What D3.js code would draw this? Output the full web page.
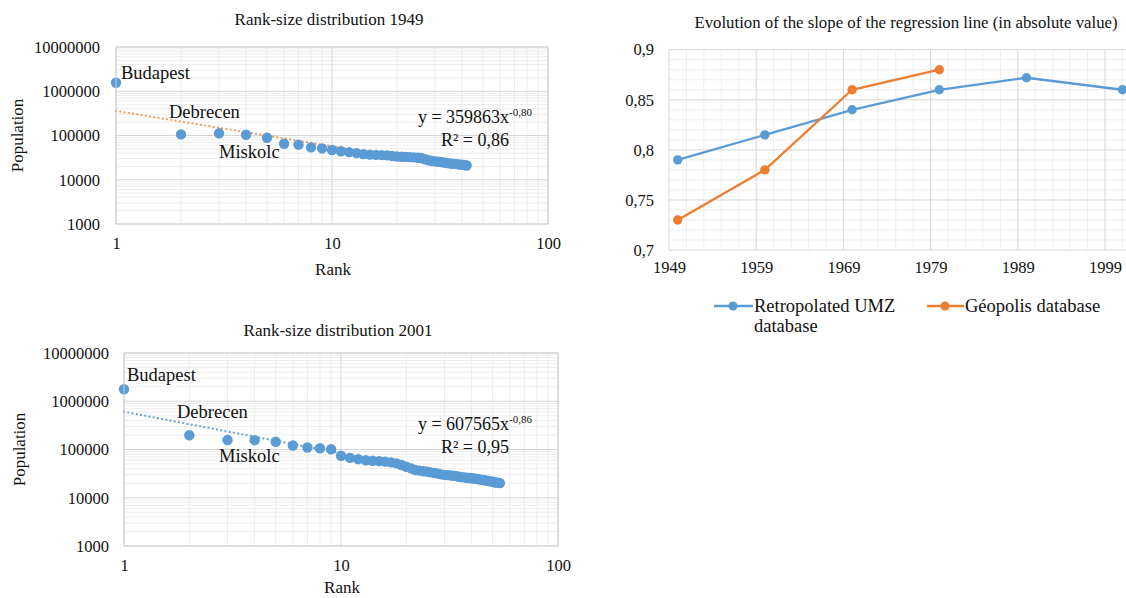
<!DOCTYPE html>
<html><head><meta charset="utf-8">
<script src="https://cdn.jsdelivr.net/npm/d3@7"></script>
<style>
body{margin:0;background:#fff}
svg{display:block}
text{font-family:"Liberation Serif","Times New Roman",serif;fill:#111}
</style></head>
<body><svg id="chart" width="1126" height="598"></svg>
<script>
// ---------- DATA ----------
const pop1949 = [1560000,106000,112000,104000,89000,65000,62000,54000,51000,47000,
  44000,42000,40000,38000,37000,36500,36000,35500,34500,33500,
  33000,32800,32500,32000,31500,30500,29000,27500,26500,26000,
  25500,25000,24500,24000,23500,23000,22800,22500,22000,21800,
  21500,21000];
const pop2001 = [1770000,197000,157000,156000,145000,121000,110000,106000,101000,74000,
  67000,63000,60000,58600,57500,56000,54000,51600,47600,44000,
  40500,37600,36500,35500,34700,33500,32500,31600,30500,29800,
  29400,29000,28600,28000,27300,26800,26400,26000,25700,25400,
  25000,24600,24200,23800,23400,23000,22600,22200,21800,21400,
  21000,20700,20400,20100];
const trend1949 = {a:359863, b:0.80, r2:"0,86"};
const trend2001 = {a:607565, b:0.86, r2:"0,95"};
const cityLabels = ["Budapest","Debrecen","Miskolc"];
const logTicksY = [1000,10000,100000,1000000,10000000];
const logTicksX = [1,10,100];

const slopeYearsUMZ = [1950,1960,1970,1980,1990,2001];
const slopeUMZ = [0.79,0.815,0.84,0.86,0.872,0.86];
const slopeYearsGeo = [1950,1960,1970,1980];
const slopeGeo = [0.73,0.78,0.86,0.88];
const yearTicks = [1949,1959,1969,1979,1989,1999];
const slopeTicks = [0.7,0.75,0.8,0.85,0.9];
const seriesNames = ["Retropolated UMZ", "database", "Géopolis database"];

const BLUE = "#5B9BD5", ORANGE = "#ED7D31";
const svg = d3.select("#chart");

// ---------- RANK-SIZE CHARTS ----------
function rankSize(cfg){
  const g = svg.append("g");
  const x = d3.scaleLog().domain([1,100]).range([cfg.l, cfg.r]);
  const y = d3.scaleLog().domain([1000,1e7]).range([cfg.b, cfg.t]);
  const minorX = [], minorY = [];
  [1,10].forEach(d=>{ for(let m=2;m<=9;m++) minorX.push(d*m); });
  [1e3,1e4,1e5,1e6].forEach(d=>{ for(let m=2;m<=9;m++) minorY.push(d*m); });
  g.selectAll(".mx").data(minorX).join("line")
    .attr("x1",d=>x(d)).attr("x2",d=>x(d)).attr("y1",cfg.t).attr("y2",cfg.b)
    .attr("stroke","#ededed").attr("stroke-width",1);
  g.selectAll(".my").data(minorY).join("line")
    .attr("y1",d=>y(d)).attr("y2",d=>y(d)).attr("x1",cfg.l).attr("x2",cfg.r)
    .attr("stroke","#ededed").attr("stroke-width",1);
  g.selectAll(".Mx").data(logTicksX).join("line")
    .attr("x1",d=>x(d)).attr("x2",d=>x(d)).attr("y1",cfg.t).attr("y2",cfg.b)
    .attr("stroke","#d6d6d6").attr("stroke-width",1);
  g.selectAll(".My").data(logTicksY).join("line")
    .attr("y1",d=>y(d)).attr("y2",d=>y(d)).attr("x1",cfg.l).attr("x2",cfg.r)
    .attr("stroke","#d6d6d6").attr("stroke-width",1);

  const ya = g.append("g").attr("transform",`translate(${cfg.l},0)`)
    .call(d3.axisLeft(y).tickValues(logTicksY).tickFormat(d3.format("d")).tickSize(0).tickPadding(cfg.padY));
  ya.select(".domain").remove();
  ya.selectAll("text").style("font-size","16.5px").style("font-family","Liberation Serif").attr("fill","#111");
  const xa = g.append("g").attr("transform",`translate(0,${cfg.b})`)
    .call(d3.axisBottom(x).tickValues(logTicksX).tickFormat(d3.format("d")).tickSize(0).tickPadding(13));
  xa.select(".domain").remove();
  xa.selectAll("text").style("font-size","16.5px").style("font-family","Liberation Serif").attr("fill","#111");

  const n = cfg.data.length;
  const tr = [1, n].map(r => [r, cfg.trend.a*Math.pow(r,-cfg.trend.b)]);
  g.append("path").attr("d", d3.line().x(d=>x(d[0])).y(d=>y(d[1]))(tr))
    .attr("fill","none").attr("stroke",cfg.trendColor).attr("stroke-width",2.2)
    .attr("stroke-dasharray","0.1 4.2").attr("stroke-linecap","round").attr("opacity",cfg.trendOpacity);

  g.selectAll(".pt").data(cfg.data).join("circle")
    .attr("cx",(d,i)=>x(i+1)).attr("cy",d=>y(d)).attr("r",5.2).attr("fill",BLUE);

  const txt = (s,xx,yy,size,anchor)=> g.append("text").attr("x",xx).attr("y",yy)
    .attr("text-anchor",anchor||"start").style("font-size",size+"px").text(s);
  txt(cfg.title, (cfg.l+cfg.r)/2 - 3, cfg.titleY, 17, "middle");
  txt("Rank", x(10)+1, cfg.rankY, 17, "middle");
  g.append("text").attr("transform",`translate(${cfg.popX},${(cfg.t+cfg.b)/2}) rotate(-90)`)
    .attr("text-anchor","middle").style("font-size","17px").text("Population");
  cfg.labelPos.forEach((p,i)=> txt(cityLabels[i], p[0], p[1], 18.5));
  const eq = g.append("text").attr("x",cfg.eqX).attr("y",cfg.eqY).attr("text-anchor","middle").style("font-size","18px");
  eq.append("tspan").text(`y = ${cfg.trend.a}x`);
  eq.append("tspan").attr("dy",-7).style("font-size","11px").text("-" + cfg.trend.b.toFixed(2).replace(".",","));
  txt(`R² = ${cfg.trend.r2}`, cfg.eqX, cfg.eqY+23, 18, "middle");
  g.append("rect").attr("x",cfg.l).attr("y",cfg.t).attr("width",cfg.r-cfg.l).attr("height",cfg.b-cfg.t)
    .attr("fill","none").attr("stroke","#d0d0d0");
}

rankSize({l:116,r:548,t:47,b:224,padY:16,data:pop1949,trend:trend1949,trendColor:ORANGE,trendOpacity:0.75,
  title:"Rank-size  distribution 1949",titleY:25,rankY:275,popX:23,
  labelPos:[[121,79],[169,118],[219,158]],eqX:475,eqY:123});
rankSize({l:124,r:558,t:353,b:546,padY:15,data:pop2001,trend:trend2001,trendColor:BLUE,trendOpacity:0.9,
  title:"Rank-size  distribution 2001",titleY:336,rankY:593,popX:25,
  labelPos:[[127,381],[177,418],[219,462]],eqX:475,eqY:430});

// ---------- SLOPE CHART ----------
(function(){
  const g = svg.append("g");
  const L=669, T=49.7, B=250, R=1126;
  const x = d3.scaleLinear().domain([1949,2002]).range([L, L+53*8.72]);
  const y = d3.scaleLinear().domain([0.7,0.9]).range([B,T]);
  const minorYears = d3.range(1951,2003,2).filter(v=>(v-1949)%10!==0);
  const minorVals = d3.range(71,90).map(v=>v/100).filter(v=>Math.round(v*100)%5!==0);
  g.selectAll(".mx").data(minorYears).join("line")
    .attr("x1",d=>x(d)).attr("x2",d=>x(d)).attr("y1",T).attr("y2",B).attr("stroke","#eeeeee");
  g.selectAll(".my").data(minorVals).join("line")
    .attr("y1",d=>y(d)).attr("y2",d=>y(d)).attr("x1",L).attr("x2",R).attr("stroke","#eeeeee");
  g.selectAll(".Mx").data(yearTicks).join("line")
    .attr("x1",d=>x(d)).attr("x2",d=>x(d)).attr("y1",T).attr("y2",B).attr("stroke","#d6d6d6");
  g.selectAll(".My").data(slopeTicks).join("line")
    .attr("y1",d=>y(d)).attr("y2",d=>y(d)).attr("x1",L).attr("x2",R).attr("stroke","#d6d6d6");

  const ya = g.append("g").attr("transform",`translate(${L},0)`)
    .call(d3.axisLeft(y).tickValues(slopeTicks).tickFormat(d=>d3.format(".2~f")(d).replace(".",",")).tickSize(0).tickPadding(15));
  ya.select(".domain").remove();
  ya.selectAll("text").style("font-size","16.5px").style("font-family","Liberation Serif").attr("fill","#111");
  const xa = g.append("g").attr("transform",`translate(0,${B})`)
    .call(d3.axisBottom(x).tickValues(yearTicks).tickFormat(d3.format("d")).tickSize(0).tickPadding(11));
  xa.select(".domain").remove();
  xa.selectAll("text").style("font-size","16.5px").style("font-family","Liberation Serif").attr("fill","#111");

  const line = d3.line().x(d=>x(d[0])).y(d=>y(d[1]));
  const umz = slopeYearsUMZ.map((yr,i)=>[yr,slopeUMZ[i]]);
  const geo = slopeYearsGeo.map((yr,i)=>[yr,slopeGeo[i]]);
  [[umz,BLUE],[geo,ORANGE]].forEach(([d,c])=>{
    g.append("path").attr("d",line(d)).attr("fill","none").attr("stroke",c).attr("stroke-width",2.3);
    g.selectAll(null).data(d).join("circle").attr("cx",p=>x(p[0])).attr("cy",p=>y(p[1])).attr("r",4.7).attr("fill",c);
  });

  g.append("text").attr("x",906).attr("y",27.5).attr("text-anchor","middle").style("font-size","16.8px")
    .text("Evolution of the slope of the regression line (in absolute value)");

  const leg = [[714,753,733,BLUE,[seriesNames[0],seriesNames[1]]],[927,964,945,ORANGE,[seriesNames[2]]]];
  leg.forEach(([x1,x2,cx,c,names])=>{
    g.append("line").attr("x1",x1).attr("x2",x2).attr("y1",306).attr("y2",306).attr("stroke",c).attr("stroke-width",2.3);
    g.append("circle").attr("cx",cx).attr("cy",306).attr("r",4.5).attr("fill",c);
    names.forEach((s,i)=> g.append("text").attr("x",x2+1).attr("y",312+i*20).style("font-size","18.5px").text(s));
  });
})();
</script></body></html>
